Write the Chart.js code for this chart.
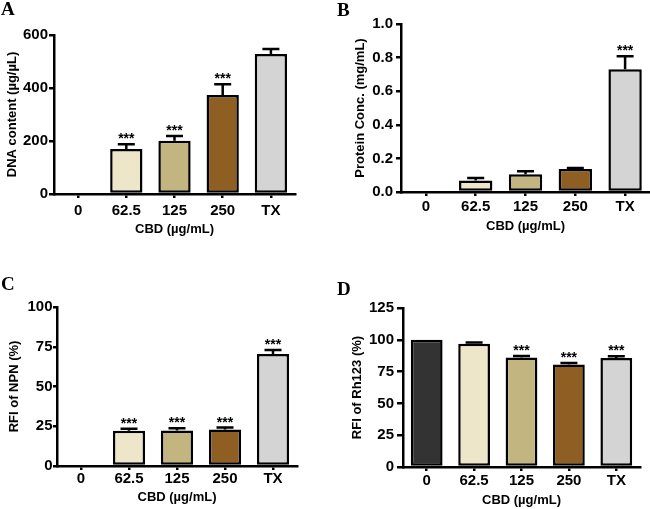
<!DOCTYPE html>
<html><head><meta charset="utf-8">
<script src="https://cdn.jsdelivr.net/npm/chart.js@4"></script>
<style>
html,body{margin:0;padding:0;background:#fff}
body{width:650px;height:509px;position:relative;overflow:hidden}
canvas{position:absolute}
.lbl{position:absolute;font:bold 19px "Liberation Serif","Times New Roman",serif;line-height:19px;color:#000}
</style></head><body>
<canvas id="cA" style="left:0px;top:0px;width:325px;height:250px"></canvas>
<canvas id="cB" style="left:325px;top:0px;width:325px;height:250px"></canvas>
<canvas id="cC" style="left:0px;top:260px;width:325px;height:249px"></canvas>
<canvas id="cD" style="left:325px;top:260px;width:325px;height:249px"></canvas>
<div class="lbl" style="left:1px;top:-1px">A</div>
<div class="lbl" style="left:337px;top:0px">B</div>
<div class="lbl" style="left:1px;top:274px">C</div>
<div class="lbl" style="left:337px;top:279px">D</div>
<script>
const categories = ["0", "62.5", "125", "250", "TX"];
const barColors = ["#333333", "#EEE6C9", "#C3B580", "#8F5E22", "#D4D4D4"];
const xTitle = "CBD (\u00b5g/mL)";

const dnaMean  = [0, 170, 201, 374, 528];
const dnaErr   = [0, 18, 18, 40, 19];
const dnaStars = ["", "***", "***", "***", ""];
const dnaTicks = [0, 200, 400, 600];

const protMean  = [0, 0.069, 0.106, 0.137, 0.731];
const protErr   = [0, 0.015, 0.017, 0.006, 0.077];
const protStars = ["", "", "", "", "***"];
const protTicks = [0, 0.2, 0.4, 0.6, 0.8, 1.0];

const npnMean  = [0, 22.2, 22.4, 23.0, 70.5];
const npnErr   = [0, 1.3, 1.3, 1.2, 2.4];
const npnStars = ["", "***", "***", "***", "***"];
const npnTicks = [0, 25, 50, 75, 100];

const rhMean  = [100, 96.8, 86.0, 80.5, 85.7];
const rhErr   = [0, 1.0, 1.3, 1.3, 1.4];
const rhStars = ["", "", "***", "***", "***"];
const rhTicks = [0, 25, 50, 75, 100, 125];

const FONT = '"Liberation Sans", Arial, Helvetica, sans-serif';

const errPlugin = {
  id: 'errbars',
  afterDatasetsDraw(chart, args, opts) {
    const ctx = chart.ctx, y = chart.scales.y;
    const meta = chart.getDatasetMeta(0);
    const data = chart.data.datasets[0].data;
    ctx.save();
    ctx.strokeStyle = '#000';
    ctx.lineWidth = 2.5;
    ctx.fillStyle = '#000';
    ctx.font = 'bold 14px ' + FONT;
    ctx.textAlign = 'center';
    ctx.textBaseline = 'alphabetic';
    meta.data.forEach((bar, i) => {
      const m = data[i], e = opts.err[i] || 0;
      const x = bar.x;
      const y0 = y.getPixelForValue(m);
      const y1 = y.getPixelForValue(m + e);
      if (e > 0) {
        ctx.beginPath();
        ctx.moveTo(x, y0); ctx.lineTo(x, y1);
        ctx.moveTo(x - 8.5, y1); ctx.lineTo(x + 8.5, y1);
        ctx.stroke();
      }
      if (opts.stars[i]) ctx.fillText(opts.stars[i], x, y1 - 1);
    });
    ctx.restore();
  }
};

function makeChart(id, w, h, mean, err, stars, ticks, fmt, yTitle, L) {
  const cv = document.getElementById(id);
  cv.width = w; cv.height = h;
  return new Chart(cv, {
    type: 'bar',
    data: {
      labels: categories,
      datasets: [{
        data: mean,
        backgroundColor: barColors,
        borderColor: '#000',
        borderWidth: 2.5,
        borderSkipped: false,
        barPercentage: 0.67,
        categoryPercentage: 1.0
      }]
    },
    plugins: [errPlugin],
    options: {
      responsive: false,
      animation: false,
      devicePixelRatio: 1,
      layout: { padding: { left: L.padL, right: L.padR, top: L.padT, bottom: L.padB } },
      plugins: {
        legend: { display: false },
        tooltip: { enabled: false },
        errbars: { err: err, stars: stars }
      },
      scales: {
        x: {
          offset: true,
          grid: { offset: false, drawOnChartArea: false, drawTicks: true, tickLength: 4, color: '#000', lineWidth: 2.5 },
          border: { display: true, color: '#000', width: 2.5 },
          ticks: { color: '#000', font: { family: FONT, size: 15, weight: 'bold' }, padding: L.xPad, maxRotation: 0 },
          title: { display: true, text: xTitle, color: '#000', font: { family: FONT, size: 13, weight: 'bold' }, padding: 0 },
          afterFit(s) { s.height = L.xH; }
        },
        y: {
          min: ticks[0],
          max: ticks[ticks.length - 1],
          afterBuildTicks(s) { s.ticks = ticks.map(v => ({ value: v })); },
          grid: { drawOnChartArea: false, drawTicks: true, tickLength: L.yTl, color: '#000', lineWidth: 2.5 },
          border: { display: true, color: '#000', width: 2.5 },
          ticks: { color: '#000', font: { family: FONT, size: 15, weight: 'bold' }, padding: L.yPad, callback: fmt },
          title: { display: true, text: yTitle, color: '#000', font: { family: FONT, size: 13, weight: 'bold' }, padding: 0 },
          afterFit(s) { s.width = L.yW; }
        }
      }
    }
  });
}

const plain = v => String(v);
const oneDec = v => Number(v).toFixed(1);

makeChart('cA', 325, 250, dnaMean, dnaErr, dnaStars, dnaTicks, plain, "DNA content (\u00b5g/\u00b5L)",
  { padL: 5, padR: 30, padT: 35, padB: 13.2, yW: 49, xH: 42.8, xPad: 3.4, yTl: 5, yPad: 1 });
makeChart('cB', 325, 250, protMean, protErr, protStars, protTicks, oneDec, "Protein Conc. (mg/mL)",
  { padL: 28, padR: 0, padT: 24, padB: 16.2, yW: 48, xH: 41.8, xPad: 2, yTl: 5, yPad: 3 });
makeChart('cC', 325, 249, npnMean, npnErr, npnStars, npnTicks, plain, "RFI of NPN (%)",
  { padL: 7, padR: 28, padT: 47, padB: 4.2, yW: 50, xH: 38.8, xPad: 0, yTl: 4, yPad: 0.5 });
makeChart('cD', 325, 249, rhMean, rhErr, rhStars, rhTicks, plain, "RFI of Rh123 (%)",
  { padL: 25, padR: 10, padT: 48, padB: 1.2, yW: 53, xH: 40.8, xPad: 1.3, yTl: 6, yPad: 3 });
</script>
</body></html>
